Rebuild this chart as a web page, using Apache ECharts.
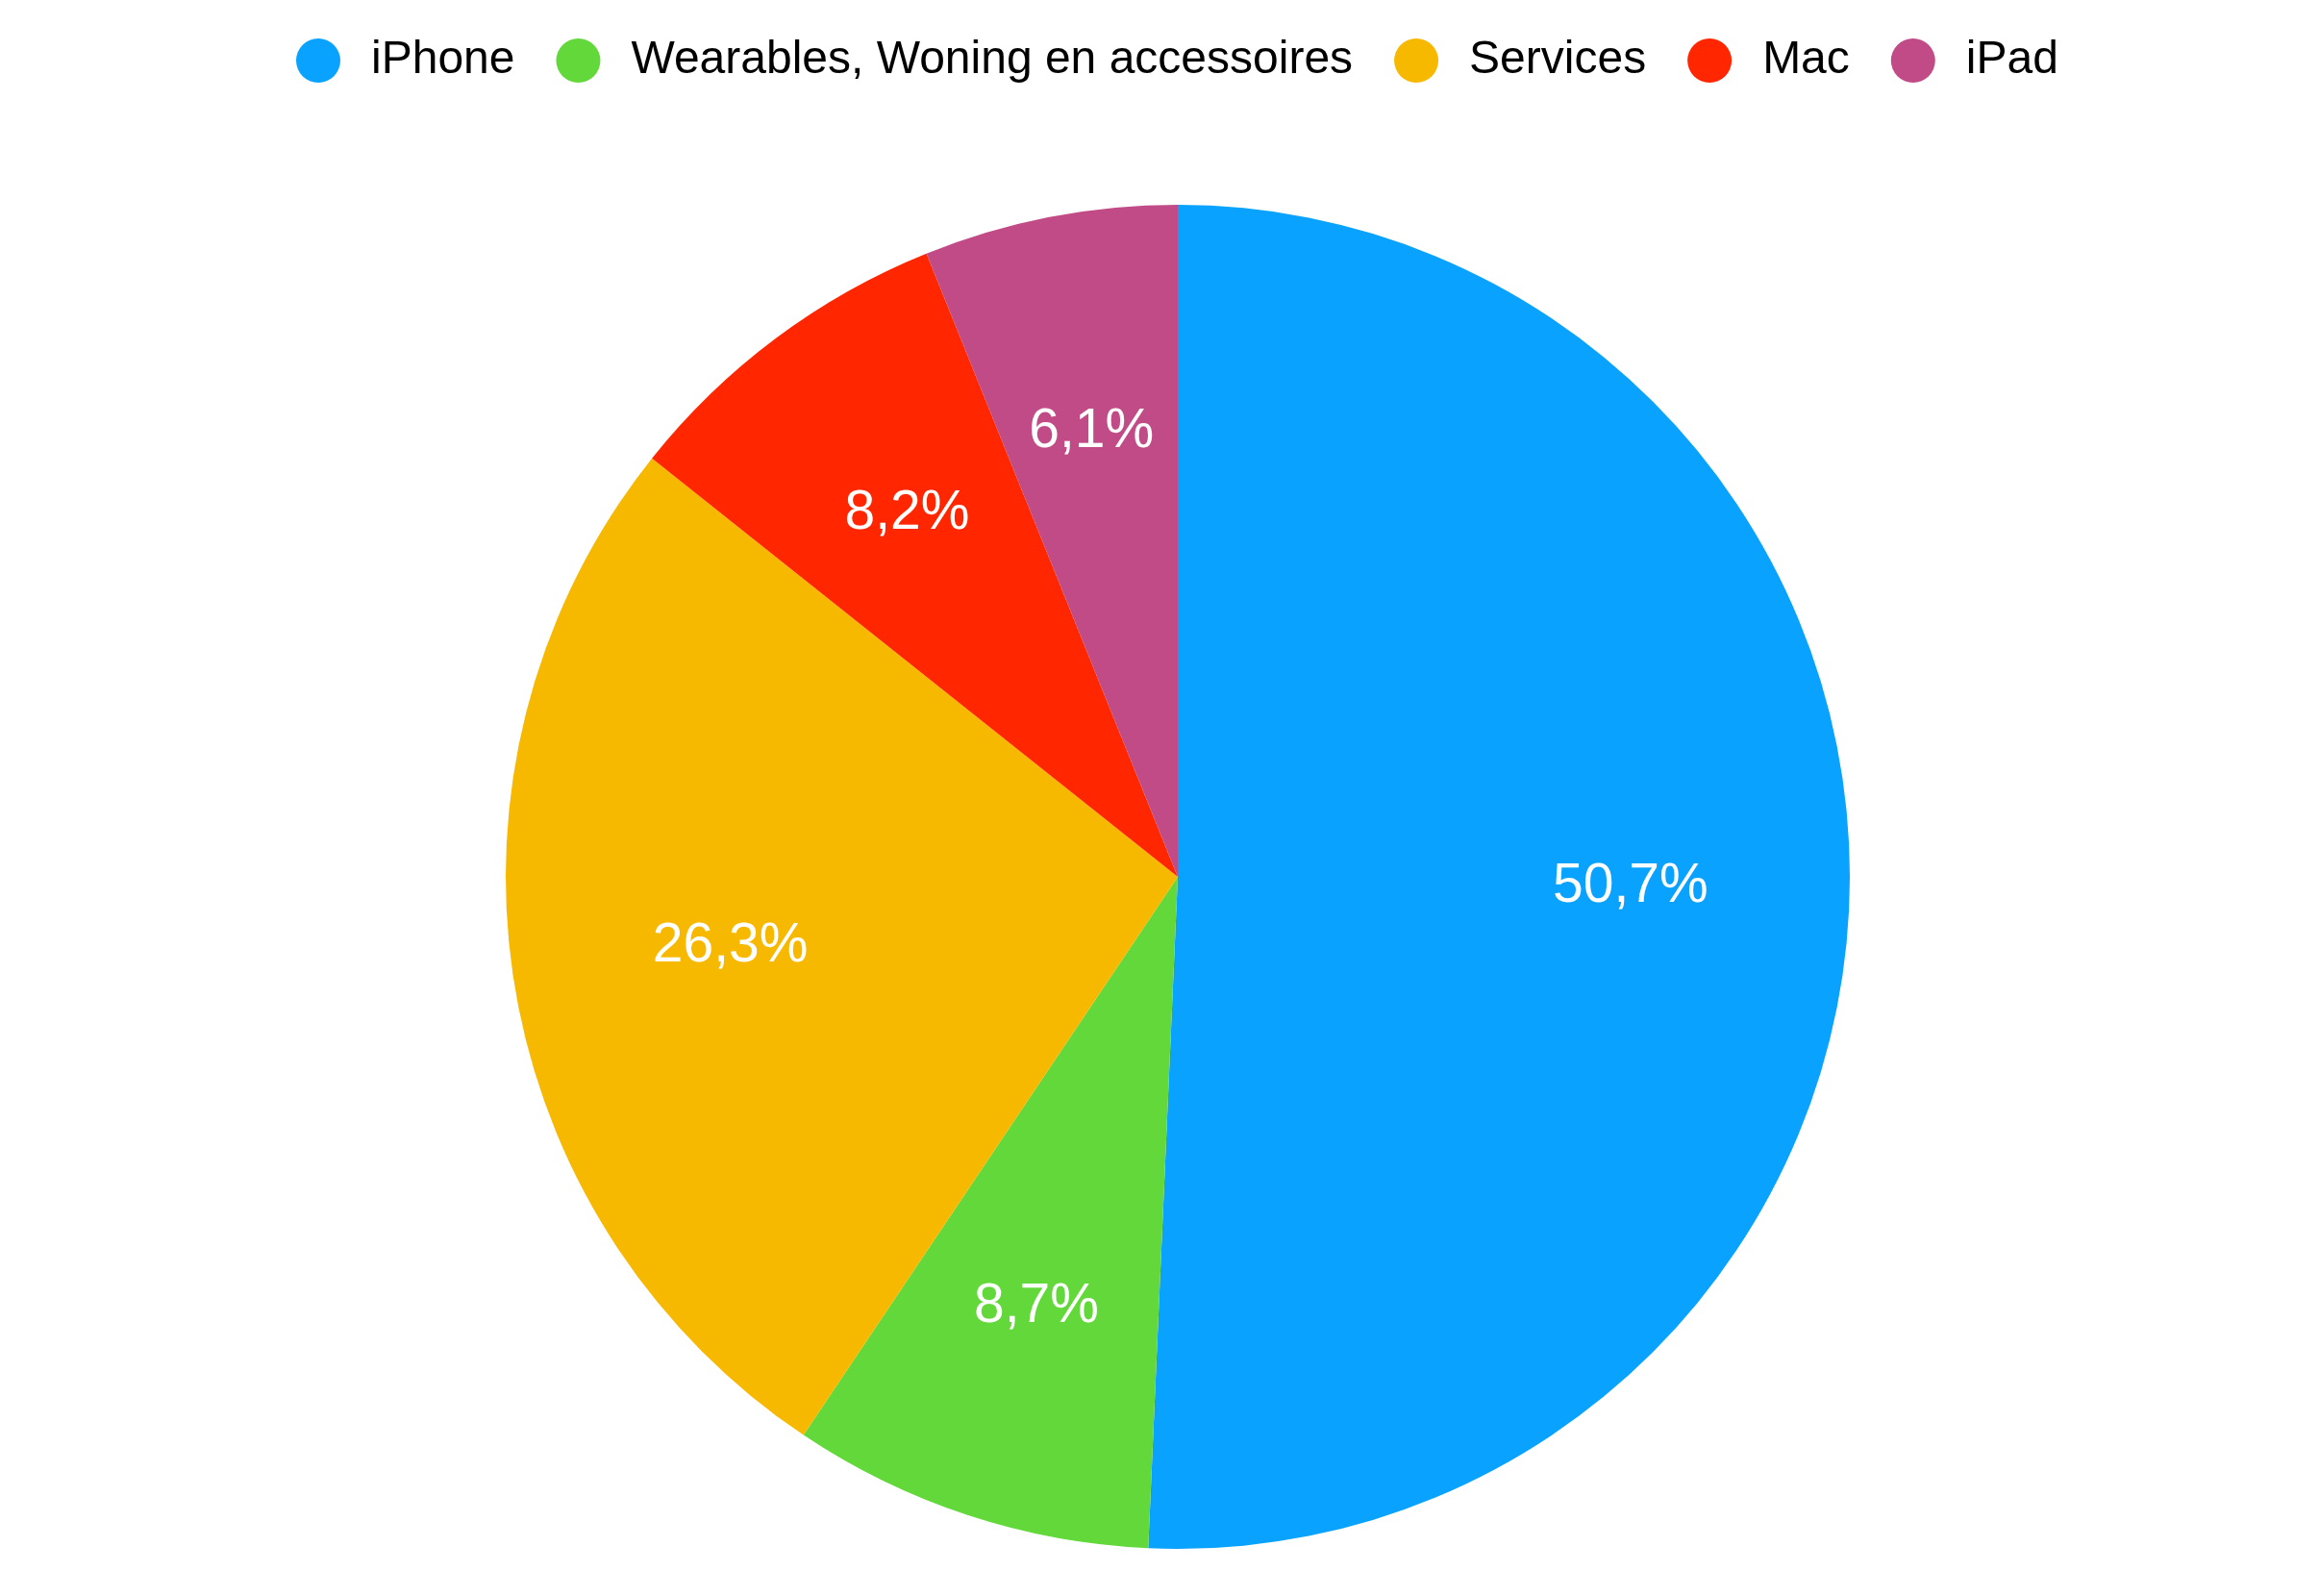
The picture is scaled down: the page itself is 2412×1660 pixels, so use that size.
<!DOCTYPE html>
<html>
<head>
<meta charset="UTF-8">
<title>Omzet per product</title>
<script src="https://cdn.jsdelivr.net/npm/echarts@6/dist/echarts.min.js" type="text/javascript"></script>
<style type="text/css">
    html,body{
        margin:0;
        height:100%;
        background:#fff;
    }
</style>
</head>
<body>
<div id="container" style="width:2412px;height:1660px"></div>
<script type="text/javascript">
	// categorieen en aandelen (%) - met de klok mee vanaf boven
	var categories = ['iPhone', 'Wearables, Woning en accessoires', 'Services', 'Mac', 'iPad'];
	var shares = [50.7, 8.7, 26.3, 8.2, 6.1];
	var colors = ['#0aa2ff', '#62d83a', '#f7b900', '#ff2600', '#c14b87'];

	var pieData = categories.map(function (name, i) {
		return { name: name, value: shares[i] };
	});

	var chart = echarts.init(document.getElementById('container'));
	var option = {
		backgroundColor: '#ffffff',
		color: colors,
		animation: false,
		legend: {
			top: 39,
			left: 308,
			padding: 0,
			icon: 'circle',
			itemWidth: 46,
			itemHeight: 46,
			itemGap: 43,
			textStyle: {
				fontFamily: 'Liberation Sans, Arial, sans-serif',
				fontSize: 48,
				color: '#000',
				padding: [0, 0, 0, 27]
			},
			data: categories
		},
		series: [{
			// de taart zelf
			type: 'pie',
			center: [1225, 912],
			radius: [0, 699],
			startAngle: 90,
			clockwise: true,
			silent: true,
			label: { show: false },
			labelLine: { show: false },
			itemStyle: { borderWidth: 0 },
			data: pieData
		}, {
			// onzichtbare laag, alleen voor de labels op ~2/3 van de straal
			type: 'pie',
			center: [1225, 912],
			radius: [0, 936],
			startAngle: 90,
			clockwise: true,
			silent: true,
			itemStyle: { color: 'rgba(0,0,0,0)', borderWidth: 0 },
			label: {
				show: true,
				position: 'inside',
				color: '#fff',
				fontFamily: 'Liberation Sans, Arial, sans-serif',
				fontSize: 57,
				formatter: function (p) {
					return p.value.toFixed(1).replace('.', ',') + '%';
				}
			},
			labelLine: { show: false },
			data: pieData
		}]
	};
	chart.setOption(option);
</script>
</body>
</html>
